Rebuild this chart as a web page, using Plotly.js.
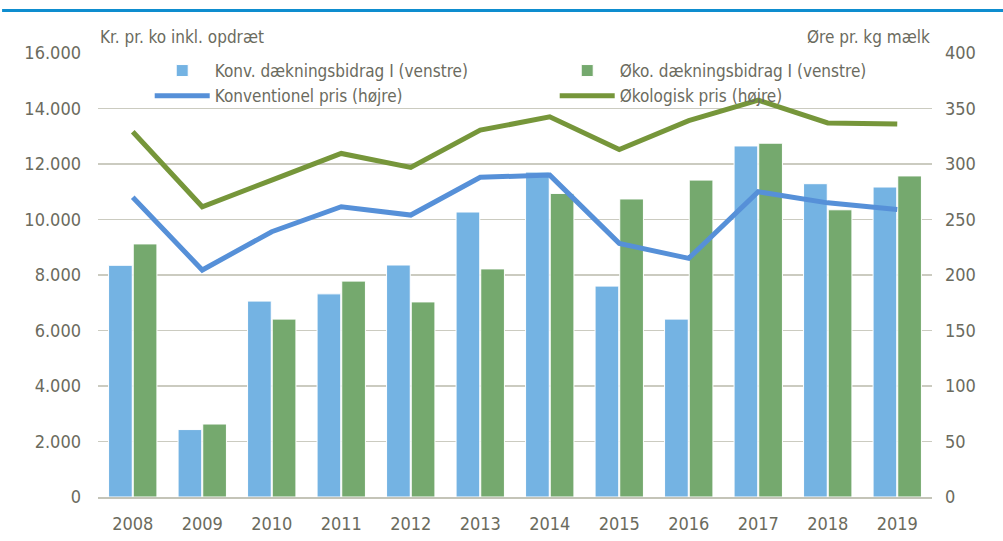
<!DOCTYPE html>
<html>
<head>
<meta charset="utf-8">
<script src="https://cdn.plot.ly/plotly-3.0.1.min.js"></script>
<style>
html,body{margin:0;padding:0;background:#fff;}
#chart{width:1003px;height:541px;}
</style>
</head>
<body>
<div id="chart"></div>
<script>
const years = ["2008","2009","2010","2011","2012","2013","2014","2015","2016","2017","2018","2019"];
const konvDB = [8350, 2430, 7060, 7320, 8360, 10270, 11710, 7600, 6410, 12650, 11290, 11170];
const okoDB  = [9120, 2630, 6410, 7780, 7030, 8220, 10940, 10740, 11420, 12750, 10350, 11570];
const konvPris = [270, 204.5, 239, 261.5, 254, 288, 290, 228.5, 215, 275, 265, 259];
const okoPris  = [329, 261.5, 285.5, 309.5, 297, 330.5, 342.5, 313, 339, 357.5, 337, 336];
const leftTicks = [0, 2000, 4000, 6000, 8000, 10000, 12000, 14000, 16000];
const rightTicks = [0, 50, 100, 150, 200, 250, 300, 350, 400];

const FONT = "'Liberation Sans Narrow', 'Arial Narrow', 'DejaVu Sans Condensed', sans-serif";
const TXT = "#6b6b5e";
const GRID = "#cbcbc0";

const traces = [
  {type:'bar', name:'Konv. dækningsbidrag I (venstre)', x:years, y:konvDB,
   marker:{color:'#74B3E3', line:{color:'#ffffff', width:1}}, yaxis:'y'},
  {type:'bar', name:'Øko. dækningsbidrag I (venstre)', x:years, y:okoDB,
   marker:{color:'#75A96E', line:{color:'#ffffff', width:1}}, yaxis:'y'},
  {type:'scatter', mode:'lines', name:'Konventionel pris (højre)', x:years, y:konvPris,
   line:{color:'#5690D8', width:5}, yaxis:'y2'},
  {type:'scatter', mode:'lines', name:'Økologisk pris (højre)', x:years, y:okoPris,
   line:{color:'#76963A', width:5}, yaxis:'y2'}
];

const layout = {
  width:1003, height:541,
  margin:{l:97.5, r:70.5, t:53, b:44, pad:0},
  paper_bgcolor:'#fff', plot_bgcolor:'#fff',
  separators:',.',
  font:{family:FONT, color:TXT, size:18},
  barmode:'group', bargap:0.29, bargroupgap:0.04,
  showlegend:true,
  legend:{orientation:'h', x:0.062, y:1.0, xanchor:'left', yanchor:'top',
    bgcolor:'rgba(0,0,0,0)', font:{family:FONT, size:17, color:TXT},
    entrywidth:335, entrywidthmode:'pixels', itemwidth:55, tracegroupgap:0, traceorder:'normal'},
  xaxis:{type:'category', showgrid:false, zeroline:false, showline:true,
    linecolor:'#c4c4b8', linewidth:2, ticks:'', tickfont:{size:18, family:FONT, color:TXT},
    ticklabelstandoff:9},
  yaxis:{range:[0,16000], tickvals:leftTicks, tickformat:',d', showgrid:true, gridcolor:GRID,
    gridwidth:1.5, zeroline:false, showline:false, ticks:'', tickfont:{size:18, family:FONT, color:TXT},
    ticklabelstandoff:16, fixedrange:true},
  yaxis2:{range:[0,400], tickvals:rightTicks, overlaying:'y', side:'right', showgrid:false,
    zeroline:false, showline:false, ticks:'', tickfont:{size:18, family:FONT, color:TXT},
    ticklabelstandoff:12, fixedrange:true},
  annotations:[
    {text:'Kr. pr. ko inkl. opdræt', xref:'paper', yref:'paper', x:0, y:1.008, xanchor:'left', yanchor:'bottom',
     showarrow:false, font:{family:FONT, size:17, color:TXT}},
    {text:'Øre pr. kg mælk', xref:'paper', yref:'paper', x:1, y:1.008, xanchor:'right', yanchor:'bottom',
     showarrow:false, font:{family:FONT, size:17, color:TXT}}
  ],
  shapes:[
    {type:'line', xref:'paper', yref:'paper', x0:-0.115, x1:1.09, y0:1.0955, y1:1.0955,
     line:{color:'#0E8DCF', width:3}}
  ]
};

Plotly.newPlot('chart', traces, layout, {displayModeBar:false, staticPlot:true});
</script>
</body>
</html>
